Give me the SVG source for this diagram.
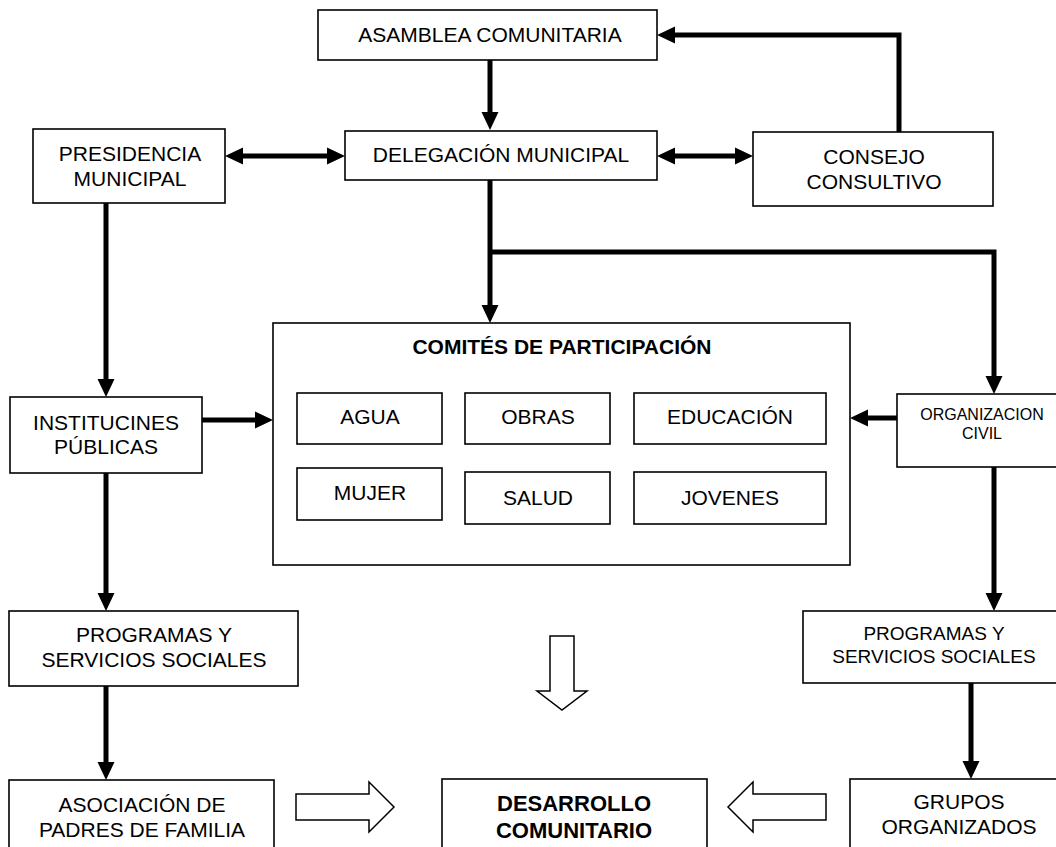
<svg xmlns="http://www.w3.org/2000/svg" width="1056" height="847" viewBox="0 0 1056 847">
<style>
.box{fill:#fff;stroke:#000;stroke-width:1.6}
.t{font-family:"Liberation Sans",Arial,sans-serif;font-size:21px;fill:#000;text-anchor:middle}
.b{font-weight:bold}
.s16{font-size:16px}
.s19{font-size:19px}
.s22{font-size:22px}
.c{fill:none;stroke:#000;stroke-width:5;stroke-linejoin:miter}
.h{fill:#fff;stroke:#000;stroke-width:1.5}
</style>
<defs>
<marker id="ah" markerUnits="userSpaceOnUse" markerWidth="19" markerHeight="18" refX="0" refY="8.5" orient="auto-start-reverse" viewBox="0 0 19 17">
<path d="M0,0 L18,8.5 L0,17 z" fill="#000"/>
</marker>
</defs>
<rect width="1056" height="847" fill="#fff"/>
<g id="connectors">
<line class="c" x1="490" y1="60" x2="490" y2="112" marker-end="url(#ah)"/>
<line class="c" x1="243" y1="156" x2="327" y2="156" marker-start="url(#ah)" marker-end="url(#ah)"/>
<line class="c" x1="675" y1="156" x2="735" y2="156" marker-start="url(#ah)" marker-end="url(#ah)"/>
<path class="c" d="M899,132 V35 H675" marker-end="url(#ah)"/>
<line class="c" x1="490" y1="180" x2="490" y2="305" marker-end="url(#ah)"/>
<path class="c" d="M490,252 H994 V376" marker-end="url(#ah)"/>
<line class="c" x1="106" y1="203" x2="106" y2="379" marker-end="url(#ah)"/>
<line class="c" x1="202" y1="420" x2="255" y2="420" marker-end="url(#ah)"/>
<line class="c" x1="897" y1="418" x2="868" y2="418" marker-end="url(#ah)"/>
<line class="c" x1="106" y1="473" x2="106" y2="593" marker-end="url(#ah)"/>
<line class="c" x1="106" y1="686" x2="106" y2="762" marker-end="url(#ah)"/>
<line class="c" x1="994" y1="467" x2="994" y2="593" marker-end="url(#ah)"/>
<line class="c" x1="971" y1="683" x2="971" y2="761" marker-end="url(#ah)"/>
<polygon class="h" points="296,794 369,794 369,782 394,807 369,832 369,820 296,820"/>
<polygon class="h" points="826,794 753,794 753,782 728,807 753,832 753,820 826,820"/>
<polygon class="h" points="550,636 574,636 574,691 587,691 562,710 537,691 550,691"/>
</g>
<g id="asamblea"><rect class="box" x="318" y="10" width="339" height="50"/><text class="t" x="490" y="42">ASAMBLEA COMUNITARIA</text></g>
<g id="delegacion"><rect class="box" x="345" y="131" width="312" height="49"/><text class="t" x="501" y="162">DELEGACIÓN MUNICIPAL</text></g>
<g id="presidencia"><rect class="box" x="33" y="129" width="192" height="74"/><text class="t" x="130" y="161">PRESIDENCIA</text><text class="t" x="130" y="186">MUNICIPAL</text></g>
<g id="consejo"><rect class="box" x="753" y="132" width="240" height="74"/><text class="t" x="874" y="164">CONSEJO</text><text class="t" x="874" y="189">CONSULTIVO</text></g>
<g id="comites"><rect class="box" x="273" y="323" width="577" height="242"/><text class="t b" x="562" y="354">COMITÉS DE PARTICIPACIÓN</text></g>
<g id="agua"><rect class="box" x="297" y="393" width="145" height="51"/><text class="t" x="370" y="424">AGUA</text></g>
<g id="obras"><rect class="box" x="465" y="393" width="145" height="51"/><text class="t" x="538" y="424">OBRAS</text></g>
<g id="educacion"><rect class="box" x="634" y="393" width="192" height="51"/><text class="t" x="730" y="424">EDUCACIÓN</text></g>
<g id="mujer"><rect class="box" x="297" y="468" width="145" height="52"/><text class="t" x="370" y="500">MUJER</text></g>
<g id="salud"><rect class="box" x="465" y="472" width="145" height="52"/><text class="t" x="538" y="505">SALUD</text></g>
<g id="jovenes"><rect class="box" x="634" y="472" width="192" height="52"/><text class="t" x="730" y="505">JOVENES</text></g>
<g id="instituciones"><rect class="box" x="10" y="397" width="192" height="76"/><text class="t" x="106" y="430">INSTITUCINES</text><text class="t" x="106" y="454">PÚBLICAS</text></g>
<g id="organizacion"><rect class="box" x="897" y="394" width="173" height="73"/><text class="t s16" x="982" y="420">ORGANIZACION</text><text class="t s16" x="982" y="439">CIVIL</text></g>
<g id="programas-izq"><rect class="box" x="9" y="611" width="289" height="75"/><text class="t" x="154" y="642">PROGRAMAS Y</text><text class="t" x="154" y="667">SERVICIOS SOCIALES</text></g>
<g id="programas-der"><rect class="box" x="803" y="611" width="265" height="72"/><text class="t s19" x="934" y="640">PROGRAMAS Y</text><text class="t s19" x="934" y="663">SERVICIOS SOCIALES</text></g>
<g id="asociacion"><rect class="box" x="9" y="780" width="265" height="80"/><text class="t" x="142" y="812">ASOCIACIÓN DE</text><text class="t" x="142" y="837">PADRES DE FAMILIA</text></g>
<g id="desarrollo"><rect class="box" x="442" y="779" width="265" height="80"/><text class="t b s22" x="574" y="811">DESARROLLO</text><text class="t b s22" x="574" y="838">COMUNITARIO</text></g>
<g id="grupos"><rect class="box" x="850" y="779" width="220" height="80"/><text class="t" x="959" y="809">GRUPOS</text><text class="t" x="959" y="834">ORGANIZADOS</text></g>
</svg>
